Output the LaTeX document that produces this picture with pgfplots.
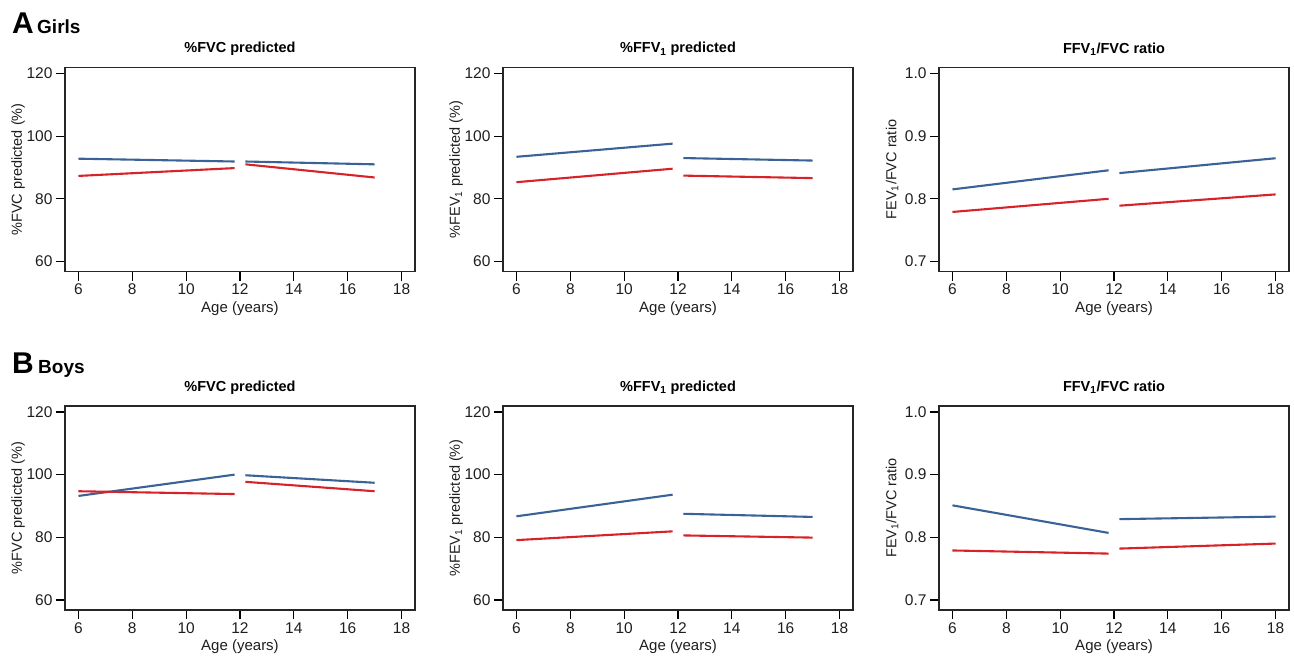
\documentclass[border=0pt]{standalone}
\usepackage{fontspec}
\setmainfont{Liberation Sans}
\usepackage{pgfplots}
\pgfplotsset{compat=1.18}
\definecolor{sasblue}{RGB}{58,98,150}
\definecolor{sasred}{RGB}{214,34,40}
\definecolor{txt}{RGB}{30,30,30}
\pgfplotsset{
  panel/.style={
    scale only axis, width=350pt, height=204pt,
    anchor=south west,
    xmin=5.5, xmax=18.5,
    xtick={6,8,10,12,14,16,18},
    xtick pos=bottom, ytick pos=left,
    tick align=outside, major tick length=9pt,
    tick style={black, line width=1.2pt},
    axis line style={line width=1.3pt, black!85},
    /pgf/number format/assume math mode=true,
    tick label style={font=\fontsize{15.5}{16}\selectfont, text=txt},
    xlabel={Age (years)},
    xlabel style={at={(axis description cs:0.5,-0.18)}, anchor=center, font=\fontsize{15}{15}\selectfont, text=txt},
    ylabel style={at={(axis description cs:-0.134,0.5)}, anchor=center, rotate=0, font=\fontsize{14.5}{15}\selectfont, text=txt},
    every axis title shift=0pt,
    title style={at={(axis description cs:0.5,1.09)}, anchor=center, font=\fontsize{14.5}{15}\selectfont\bfseries},
    every axis plot/.append style={line width=2.1pt, no marks},
  },
  pct/.style={panel, ymin=56.8, ymax=121.9, ytick={60,80,100,120}},
  rat/.style={panel, ymin=0.684, ymax=1.0095, ytick={0.7,0.8,0.9,1.0},
    yticklabel style={/pgf/number format/fixed, /pgf/number format/fixed zerofill, /pgf/number format/precision=1}},
}
\begin{document}
\begin{tikzpicture}
\path[use as bounding box] (0,0) rectangle (1294pt,-658pt);
\node[anchor=base west, inner sep=0pt] at (12pt,-34pt) {\fontsize{30}{30}\selectfont\bfseries A};
\node[anchor=base west, inner sep=0pt] at (37pt,-34pt) {\fontsize{19}{19}\selectfont\bfseries Girls};
\node[anchor=base west, inner sep=0pt] at (12pt,-373pt) {\fontsize{30}{30}\selectfont\bfseries B};
\node[anchor=base west, inner sep=0pt] at (38pt,-373pt) {\fontsize{19}{19}\selectfont\bfseries Boys};

% ---- Girls FVC
\begin{axis}[pct, at={(65pt,-271.5pt)}, title={\%FVC predicted}, ylabel={\%FVC predicted (\%)}]
\addplot[sasblue] coordinates {(6,92.8) (11.8,91.9)};
\addplot[sasblue] coordinates {(12.2,91.9) (17,91.0)};
\addplot[sasred] coordinates {(6,87.3) (11.8,89.8)};
\addplot[sasred] coordinates {(12.2,91.0) (17,86.8)};
\end{axis}
% ---- Girls FEV1
\begin{axis}[pct, at={(503pt,-271.5pt)}, title={\%FFV\textsubscript{1} predicted}, ylabel={\%FEV\textsubscript{1} predicted (\%)}]
\addplot[sasblue] coordinates {(6,93.4) (11.8,97.6)};
\addplot[sasblue] coordinates {(12.2,93.0) (17,92.2)};
\addplot[sasred] coordinates {(6,85.3) (11.8,89.6)};
\addplot[sasred] coordinates {(12.2,87.4) (17,86.6)};
\end{axis}
% ---- Girls ratio
\begin{axis}[rat, at={(939pt,-271.5pt)}, title={FFV\textsubscript{1}/FVC ratio}, ylabel={FEV\textsubscript{1}/FVC ratio}]
\addplot[sasblue] coordinates {(6,0.815) (11.8,0.8455)};
\addplot[sasblue] coordinates {(12.2,0.841) (18,0.8647)};
\addplot[sasred] coordinates {(6,0.779) (11.8,0.800)};
\addplot[sasred] coordinates {(12.2,0.789) (18,0.807)};
\end{axis}

% ---- Boys FVC
\begin{axis}[pct, at={(65pt,-610pt)}, title={\%FVC predicted}, ylabel={\%FVC predicted (\%)}]
\addplot[sasblue] coordinates {(6,93.2) (11.8,100.0)};
\addplot[sasblue] coordinates {(12.2,99.8) (17,97.4)};
\addplot[sasred] coordinates {(6,94.7) (11.8,93.8)};
\addplot[sasred] coordinates {(12.2,97.7) (17,94.7)};
\end{axis}
% ---- Boys FEV1
\begin{axis}[pct, at={(503pt,-610pt)}, title={\%FFV\textsubscript{1} predicted}, ylabel={\%FEV\textsubscript{1} predicted (\%)}]
\addplot[sasblue] coordinates {(6,86.7) (11.8,93.6)};
\addplot[sasblue] coordinates {(12.2,87.5) (17,86.5)};
\addplot[sasred] coordinates {(6,79.1) (11.8,81.9)};
\addplot[sasred] coordinates {(12.2,80.6) (17,79.9)};
\end{axis}
% ---- Boys ratio
\begin{axis}[rat, at={(939pt,-610pt)}, title={FFV\textsubscript{1}/FVC ratio}, ylabel={FEV\textsubscript{1}/FVC ratio}]
\addplot[sasblue] coordinates {(6,0.851) (11.8,0.807)};
\addplot[sasblue] coordinates {(12.2,0.829) (18,0.833)};
\addplot[sasred] coordinates {(6,0.779) (11.8,0.774)};
\addplot[sasred] coordinates {(12.2,0.782) (18,0.790)};
\end{axis}
\end{tikzpicture}
\end{document}
